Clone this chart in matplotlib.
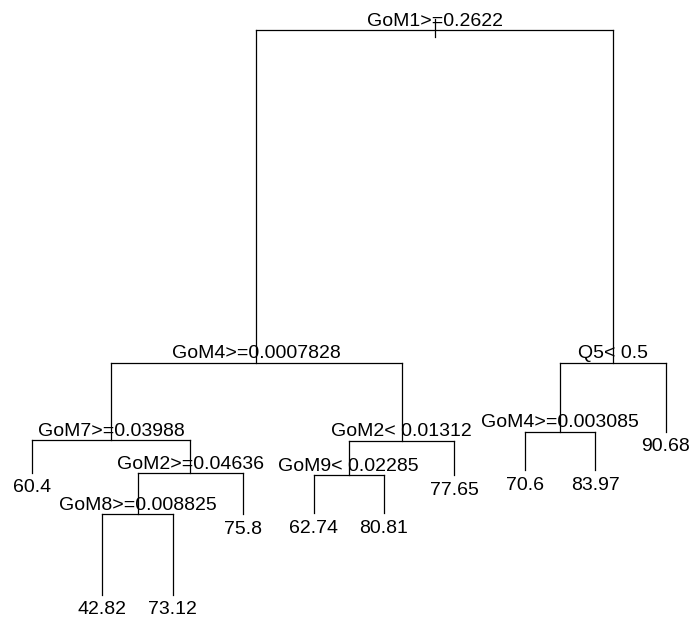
import matplotlib
matplotlib.use("Agg")
import matplotlib.pyplot as plt

plt.rcParams['font.family'] = ['Liberation Sans', 'DejaVu Sans']

# rpart-style node numbering: children of n are 2n and 2n+1
node_ids = [1, 2, 3, 4, 5, 6, 7, 8, 9, 10, 11, 12, 13, 18, 19, 20, 21, 36, 37]
node_labels = ["GoM1>=0.2622", "GoM4>=0.0007828", "Q5< 0.5",
               "GoM7>=0.03988", "GoM2< 0.01312", "GoM4>=0.003085", "90.68",
               "60.4", "GoM2>=0.04636", "GoM9< 0.02285", "77.65",
               "70.6", "83.97", "GoM8>=0.008825", "75.8",
               "62.74", "80.81", "42.82", "73.12"]
node_heights = [1.0, 0.411, 0.411, 0.274, 0.273, 0.289, 0.289,
                0.216, 0.216, 0.212, 0.212, 0.221, 0.221,
                0.143, 0.143, 0.145, 0.145, 0.0, 0.0]

label = dict(zip(node_ids, node_labels))
height = dict(zip(node_ids, node_heights))


def is_leaf(n):
    return 2 * n not in label


# leaves evenly spaced in left-to-right order, internal nodes at midpoint
xpos = {}
counter = [0]


def place(n):
    if is_leaf(n):
        counter[0] += 1
        xpos[n] = counter[0]
    else:
        place(2 * n)
        place(2 * n + 1)
        xpos[n] = (xpos[2 * n] + xpos[2 * n + 1]) / 2


place(1)

fig = plt.figure(figsize=(6.9, 6.21), dpi=100)
ax = fig.add_axes([0, 0, 1, 1])
ax.set_xlim(0.5455, 10.347)
ax.set_ylim(-0.046, 1.0531)
ax.axis('off')

lw = 0.9
for n in node_ids:
    if is_leaf(n):
        continue
    l, r = 2 * n, 2 * n + 1
    h = height[n]
    ax.plot([xpos[l], xpos[r]], [h, h], color='black', lw=lw)
    ax.plot([xpos[l], xpos[l]], [h, height[l]], color='black', lw=lw)
    ax.plot([xpos[r], xpos[r]], [h, height[r]], color='black', lw=lw)

# small root marker
ax.plot([xpos[1], xpos[1]], [height[1] + 0.019, height[1] - 0.013], color='black', lw=lw)

for n in node_ids:
    if is_leaf(n):
        ax.annotate(label[n], (xpos[n], height[n]), xytext=(0, -14),
                    textcoords='offset points', ha='center', va='baseline',
                    fontsize=14)
    else:
        ax.annotate(label[n], (xpos[n], height[n]), xytext=(0, 3.2),
                    textcoords='offset points', ha='center', va='baseline',
                    fontsize=14)

fig.savefig("out.png", dpi=100)
